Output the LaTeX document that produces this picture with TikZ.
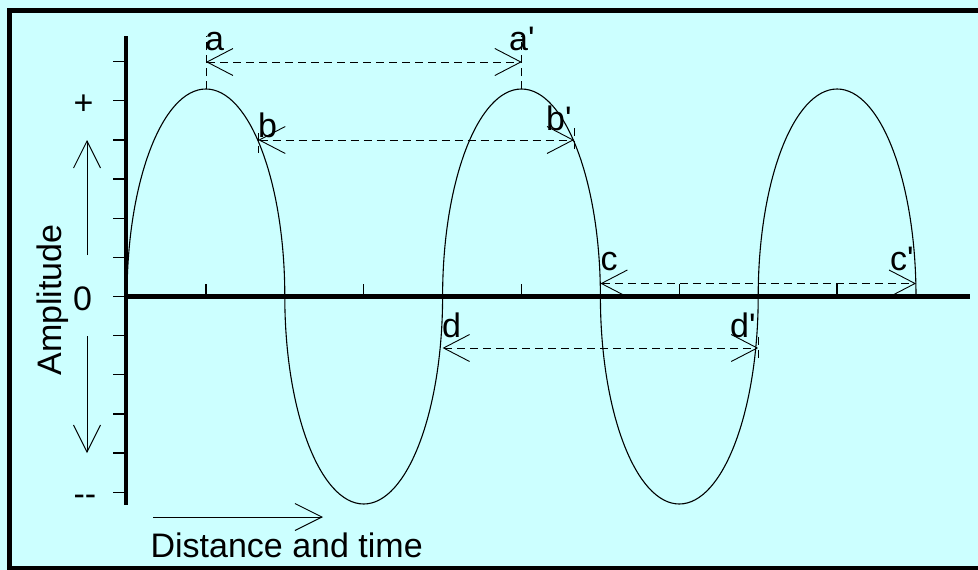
\documentclass[tikz,border=0pt]{standalone}
\usepackage{fontspec}
\setmainfont{Liberation Sans}
\usetikzlibrary{arrows.meta}
\definecolor{PaleCyan}{RGB}{204, 255, 255}

\begin{document}
\begin{tikzpicture}[
            x=1pt, y=-1pt,
            axis/.style={line width=4.3pt},
            tick/.style={line width=1.3pt},
            wave/.style={line width=1.1pt},
            guide/.style={dash pattern=on 8pt off 5pt, line width=0.9pt},
            span/.style={guide, {Straight Barb[length=26pt, width=27pt]}-{Straight Barb[length=26pt, width=27pt]}},
            dirarrow/.style={-{Straight Barb[length=27pt, width=27pt]}, line width=0.9pt},
            lbl/.style={font=\fontsize{34}{40}\selectfont, inner sep=0pt, anchor=base west},
            axlbl/.style={font=\fontsize{34}{40}\selectfont, inner sep=0pt, anchor=base}
        ]
            \useasboundingbox (0,0) rectangle (978,570);
            \fill[PaleCyan] (0,0) rectangle (978,570);
            \draw[line width=4.6pt] (982,10.5) -- (9.2,10.5) -- (9.2,568.6) -- (982,568.6);

            \draw[axis] (126.3,36) -- (126.3,505);
            \draw[axis] (126.3,296.5) -- (969.5,296.5);
            \foreach \k in {-6,...,5}
                \draw[tick] (113,296.5+39.15*\k) -- (126,296.5+39.15*\k);
            \foreach \i in {1,3,5,7,9}
                \draw[tick] (127+78.9*\i,296.5) -- ++(0,-13);

            \draw[wave] (127,296.5)
                arc[start angle=180, end angle=0, x radius=78.9pt, y radius=207.5pt]
                arc[start angle=180, end angle=360, x radius=78.9pt, y radius=207.5pt]
                arc[start angle=180, end angle=0, x radius=78.9pt, y radius=207.5pt]
                arc[start angle=180, end angle=360, x radius=78.9pt, y radius=207.5pt]
                arc[start angle=180, end angle=0, x radius=78.9pt, y radius=207.5pt];

            \coordinate (a) at (206,62);
            \coordinate (a2) at (521.8,62);
            \coordinate (b) at (258.3,140);
            \coordinate (b2) at (574,140);
            \coordinate (c) at (600.4,283.5);
            \coordinate (c2) at (916,283.5);
            \coordinate (d) at (442.6,348);
            \coordinate (d2) at (758.2,348);

            \draw[guide] (206,89) -- (206,36);
            \draw[guide] (521.8,89) -- (521.8,36);
            \draw[guide] (258.3,133) -- (258.3,153);
            \draw[guide] (574,128) -- (574,153);
            \draw[guide] (758.3,337) -- (758.3,360);

            \draw[span] (a) -- (a2);
            \draw[span] (b) -- (b2);
            \draw[span] (c) -- (c2);
            \draw[span] (d) -- (d2);

            \node[lbl] (la) at (205,50) {a};
            \node[lbl] (la2) at (509,50) {a\textquotesingle};
            \node[lbl] (lb) at (258,137) {b};
            \node[lbl] (lb2) at (546,130) {b\textquotesingle};
            \node[lbl] (lc) at (600.5,270) {c};
            \node[lbl] (lc2) at (890,270) {c\textquotesingle};
            \node[lbl] (ld) at (442,337) {d};
            \node[lbl] (ld2) at (730,337) {d\textquotesingle};

            \node[axlbl] (plus) at (83.5,114) {+};
            \node[axlbl] (zero) at (82.5,310) {0};
            \node[axlbl] (minus) at (85,505) {{-}{-}};
            \node[axlbl, rotate=90] (amp) at (61.7,300) {Amplitude};

            \coordinate (upfrom) at (87,255);
            \coordinate (uptip) at (87,140);
            \coordinate (downfrom) at (87,336);
            \coordinate (downtip) at (87,453);
            \draw[dirarrow] (upfrom) -- (uptip);
            \draw[dirarrow] (downfrom) -- (downtip);

            \coordinate (dstart) at (153,517);
            \coordinate (dtip) at (323,517);
            \draw[dirarrow] (dstart) -- (dtip);
            \node[lbl] (dist) at (150.4,557) {Distance and time};
        \end{tikzpicture}
\end{document}
